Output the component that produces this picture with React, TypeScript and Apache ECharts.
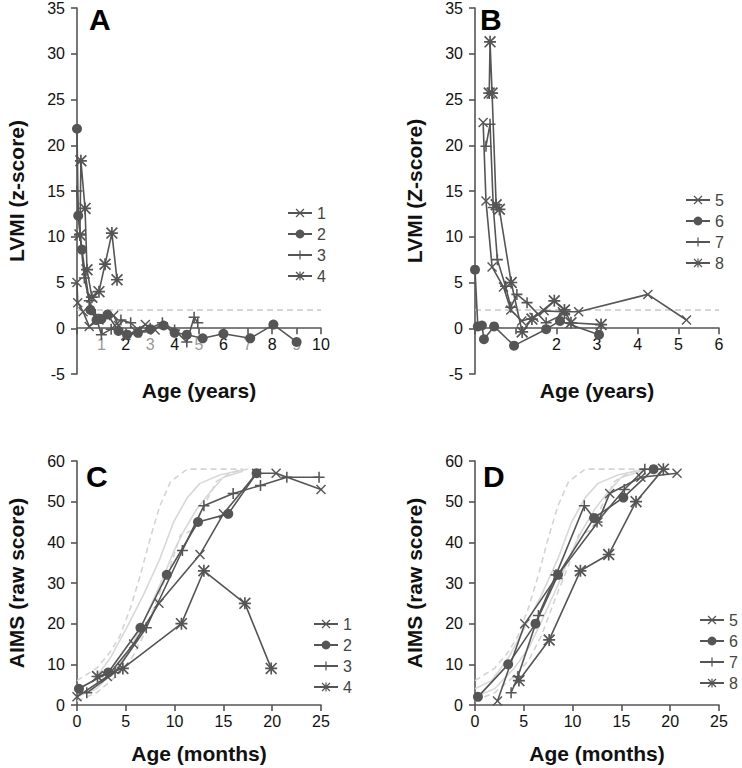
import React, { useEffect, useRef } from "react";
import * as echarts from "echarts";

// ---------- data ----------
// Panel A: LVMI z-score vs age (years), patients 1-4
const lvmiA1: number[][] = [[0, 5.0], [0.03, 2.8], [0.25, 1.8], [0.5, 0.2], [0.9, 0.9], [1.5, 1.4], [1.7, 0.3], [2.0, -0.8], [2.4, -0.3], [2.8, 0.4], [3.2, -0.2]];
const lvmiA2: number[][] = [[0, 21.8], [0.05, 12.3], [0.2, 8.6], [0.55, 2.0], [0.8, 0.9], [1.0, 1.0], [1.25, 1.5], [1.7, -0.3], [2.05, -0.7], [2.5, -0.5], [3.0, -0.1], [3.55, 0.3], [4.0, -0.5], [4.5, -0.7], [5.15, -1.1], [6.0, -0.6], [7.1, -1.1], [8.05, 0.4], [9.0, -1.5]];
const lvmiA3: number[][] = [[0, 15.0], [0.12, 10.3], [0.3, 5.5], [0.5, 3.0], [0.75, 1.5], [1.0, -0.7], [1.4, -0.1], [1.8, 0.9], [2.2, 0.6], [2.6, -0.4], [3.0, 0.0], [3.5, 0.6], [4.0, -0.2], [4.5, -1.5], [4.8, 1.2], [4.95, 0.6]];
const lvmiA4: number[][] = [[0.12, 10.2], [0.16, 18.3], [0.33, 13.1], [0.41, 6.4], [0.61, 3.4], [0.9, 4.0], [1.15, 7.0], [1.43, 10.4], [1.64, 5.3]];
// Panel B: patients 5-8
const lvmiB5: number[][] = [[0.2, 22.5], [0.27, 13.9], [0.42, 6.7], [0.7, 4.5], [0.88, 2.0], [1.15, 0.8], [1.45, 1.2], [1.7, 1.9], [2.15, 1.8], [2.55, 1.8], [4.25, 3.7], [5.2, 0.9]];
const lvmiB6: number[][] = [[0, 6.4], [0.07, 0.2], [0.17, 0.3], [0.22, -1.2], [0.47, 0.2], [0.96, -1.9], [1.75, -0.1], [2.09, 0.8], [3.05, -0.7]];
const lvmiB7: number[][] = [[0.27, 19.9], [0.37, 22.3], [0.45, 13.2], [0.55, 7.5], [0.75, 4.6], [0.88, 2.3], [1.03, 3.7], [1.28, 2.8], [1.75, 0.6], [2.2, 1.6]];
const lvmiB8: number[][] = [[0.35, 25.7], [0.37, 31.3], [0.42, 25.7], [0.52, 13.5], [0.6, 13.0], [0.89, 5.0], [1.16, -0.4], [1.4, 1.0], [1.95, 3.0], [2.2, 2.0], [2.36, 0.6], [3.1, 0.4]];
const lvmiLimit = 2;
// Panel C: AIMS raw score vs age (months), patients 1-4
const aimsC1: number[][] = [[0, 2], [3.1, 7], [5.8, 15], [8.4, 25], [12.6, 37], [15, 47], [18.4, 57], [20.4, 57], [25, 53]];
const aimsC2: number[][] = [[0.2, 4], [3.2, 8], [6.5, 19], [9.2, 32], [12.4, 45], [15.5, 47], [18.4, 57]];
const aimsC3: number[][] = [[1.0, 3], [3.9, 8], [7.1, 19], [10.8, 38], [13.0, 49], [16.0, 52], [18.8, 54], [21.5, 56], [24.8, 56]];
const aimsC4: number[][] = [[2.1, 7], [4.7, 9], [10.7, 20], [13.0, 33], [17.2, 25], [19.9, 9]];
// Panel D: patients 5-8
const aimsD5: number[][] = [[2.3, 1], [5.1, 20], [8.5, 32], [12.6, 45], [13.8, 52], [17.0, 56], [20.7, 57]];
const aimsD6: number[][] = [[0.3, 2], [3.4, 10], [6.2, 20], [8.5, 32], [12.2, 46], [15.2, 51], [18.3, 58]];
const aimsD7: number[][] = [[3.7, 3], [4.4, 7], [6.5, 22], [8.3, 32], [11.2, 49], [12.5, 45], [15.3, 53], [17.4, 58]];
const aimsD8: number[][] = [[4.5, 6], [7.6, 16], [10.8, 33], [13.7, 37], [16.5, 50], [19.3, 58]];
// AIMS reference percentile curves
const aimsP90: number[][] = [[0, 6], [2, 9], [3.4, 13], [4.4, 17], [5.5, 24], [6.5, 32], [7.5, 41], [8.5, 49], [9.6, 55], [11.3, 58], [17, 58]];
const aimsP75: number[][] = [[0, 4], [1.7, 6], [3.4, 11.5], [5.1, 19], [6.8, 27], [8.5, 36], [9.9, 45], [11.3, 51], [12.6, 54.5], [14.7, 56.6], [16.4, 57.5], [17.5, 58]];
const aimsP25: number[][] = [[0, 2], [2, 4], [4, 9], [5.5, 14], [6.8, 20.5], [8.5, 29.5], [9.9, 37.7], [10.9, 42.6], [12.3, 48.3], [13.7, 52.5], [15, 56], [17, 57.5]];
const aimsP10: number[][] = [[0, 1], [2, 3], [4, 7], [5.5, 11], [6.8, 17], [8.2, 26], [9.6, 34.4], [10.6, 41.8], [11.9, 43], [13, 49], [14.3, 55], [15.7, 57], [17, 58]];

const panelLetters = ["A", "B", "C", "D"];
const legendA = ["1", "2", "3", "4"];
const legendB = ["5", "6", "7", "8"];

// ---------- styles ----------
const FONT = "Liberation Sans, Arial, sans-serif";
const INK = "#555";
const SYM_X = "path://M0,1 L1,0 L5,4 L9,0 L10,1 L6,5 L10,9 L9,10 L5,6 L1,10 L0,9 L4,5 Z";
const SYM_PLUS = "path://M4.3,0 H5.7 V4.3 H10 V5.7 H5.7 V10 H4.3 V5.7 H0 V4.3 H4.3 Z";
const SYM_STAR = "path://M4.3,0 H5.7 V10 H4.3 Z M0,4.3 H10 V5.7 H0 Z M0,1 L1,0 L10,9 L9,10 Z M9,0 L10,1 L1,10 L0,9 Z";
const SYMS = [SYM_X, "circle", SYM_PLUS, SYM_STAR];
const SIZES = [10, 10, 11, 12];

function dataSeries(name: string, data: number[][], k: number, idx: number) {
  return {
    type: "line",
    name,
    data,
    xAxisIndex: idx,
    yAxisIndex: idx,
    symbol: SYMS[k],
    symbolSize: SIZES[k],
    showSymbol: true,
    lineStyle: { color: INK, width: 1.6 },
    itemStyle: { color: INK },
    z: 5,
    silent: true,
  };
}

function refSeries(name: string, data: number[][], idx: number, dashed: boolean, color: string) {
  return {
    type: "line",
    name,
    data,
    xAxisIndex: idx,
    yAxisIndex: idx,
    symbol: "none",
    lineStyle: { color, width: 1.6, type: dashed ? [6, 4] : "solid" },
    z: 1,
    silent: true,
  };
}

const grids = [
  { left: 77, top: 7, width: 244, height: 367 },
  { left: 475, top: 7, width: 244, height: 367 },
  { left: 77, top: 461, width: 244, height: 244 },
  { left: 475, top: 461, width: 244, height: 244 },
];
// LVMI panels: zero sits 5 of 40 units above the grid bottom
const LVMI_ZERO_OFFSET = -(367 * 5) / 40;

function xAxis(idx: number, max: number, interval: number, name: string, gap: number, offset: number, fmt?: (v: number) => string, col?: (v: any) => string) {
  return {
    type: "value",
    gridIndex: idx,
    min: 0,
    max,
    interval,
    name,
    offset,
    position: "bottom",
    nameLocation: "middle",
    nameGap: gap,
    nameTextStyle: { fontSize: 21, fontWeight: "bold", color: "#111", fontFamily: FONT },
    axisLine: { onZero: false, lineStyle: { color: INK, width: 1.6 } },
    axisTick: { show: true, length: 6, lineStyle: { color: INK, width: 1.6 } },
    axisLabel: {
      fontSize: 16,
      color: col || "#111",
      fontFamily: FONT,
      margin: 8,
      formatter: fmt || ((v: number) => String(v)),
    },
    splitLine: { show: false },
  };
}

function yAxis(idx: number, min: number, max: number, interval: number, name: string) {
  return {
    type: "value",
    gridIndex: idx,
    min,
    max,
    interval,
    name,
    nameLocation: "middle",
    nameGap: 50,
    nameTextStyle: { fontSize: 21, fontWeight: "bold", color: "#111", fontFamily: FONT },
    axisLine: { show: true, onZero: false, lineStyle: { color: INK, width: 1.6 } },
    axisTick: { show: true, length: 6, lineStyle: { color: INK, width: 1.6 } },
    axisLabel: { fontSize: 16, color: "#111", fontFamily: FONT, margin: 12 },
    splitLine: { show: false },
  };
}

function legend(names: string[], left: number, top: number) {
  return {
    data: names,
    orient: "vertical",
    left,
    top,
    itemWidth: 24,
    itemHeight: 11,
    itemGap: 5,
    selectedMode: false,
    textStyle: { fontSize: 16, color: "#444", fontFamily: FONT },
  };
}

export default function App() {
  const ref = useRef<HTMLDivElement>(null);
  useEffect(() => {
    if (!ref.current) return;
    const chart = echarts.init(ref.current, null, { renderer: "svg" });
    const lightDash = "#d4d4d4";
    const lightSolid = "#d8d8d8";
    const option: any = {
      animation: false,
      backgroundColor: "#fff",
      textStyle: { fontFamily: FONT },
      grid: grids,
      xAxis: [
        xAxis(0, 10, 1, "Age (years)", 52, LVMI_ZERO_OFFSET, (v) => (v === 0 ? "" : String(v)), (v: any) => (Number(v) % 2 === 1 ? "#999" : "#111")),
        xAxis(1, 6, 1, "Age (years)", 52, LVMI_ZERO_OFFSET, (v) => (v <= 1 ? "" : String(v))),
        xAxis(2, 25, 5, "Age (months)", 38, 0),
        xAxis(3, 25, 5, "Age (months)", 38, 0),
      ],
      yAxis: [
        yAxis(0, -5, 35, 5, "LVMI (z-score)"),
        yAxis(1, -5, 35, 5, "LVMI (Z-score)"),
        yAxis(2, 0, 60, 10, "AIMS (raw score)"),
        yAxis(3, 0, 60, 10, "AIMS (raw score)"),
      ],
      legend: [
        legend(legendA, 282, 200),
        legend(legendB, 680, 187),
        legend(legendA, 308, 611),
        legend(legendB, 694, 607),
      ],
      series: [
        refSeries("limitA", [[0, lvmiLimit], [10, lvmiLimit]], 0, true, "#c8c8c8"),
        refSeries("limitB", [[0, lvmiLimit], [6, lvmiLimit]], 1, true, "#c8c8c8"),
        refSeries("p90C", aimsP90, 2, true, lightDash),
        refSeries("p75C", aimsP75, 2, false, lightSolid),
        refSeries("p25C", aimsP25, 2, false, lightSolid),
        refSeries("p10C", aimsP10, 2, true, lightDash),
        refSeries("p90D", aimsP90, 3, true, lightDash),
        refSeries("p75D", aimsP75, 3, false, lightSolid),
        refSeries("p25D", aimsP25, 3, false, lightSolid),
        refSeries("p10D", aimsP10, 3, true, lightDash),
        dataSeries("1", lvmiA1, 0, 0),
        dataSeries("2", lvmiA2, 1, 0),
        dataSeries("3", lvmiA3, 2, 0),
        dataSeries("4", lvmiA4, 3, 0),
        dataSeries("5", lvmiB5, 0, 1),
        dataSeries("6", lvmiB6, 1, 1),
        dataSeries("7", lvmiB7, 2, 1),
        dataSeries("8", lvmiB8, 3, 1),
        dataSeries("1", aimsC1, 0, 2),
        dataSeries("2", aimsC2, 1, 2),
        dataSeries("3", aimsC3, 2, 2),
        dataSeries("4", aimsC4, 3, 2),
        dataSeries("5", aimsD5, 0, 3),
        dataSeries("6", aimsD6, 1, 3),
        dataSeries("7", aimsD7, 2, 3),
        dataSeries("8", aimsD8, 3, 3),
      ],
      graphic: [
        { type: "text", left: 89, top: 4, style: { text: panelLetters[0], fontSize: 30, fontWeight: "bold", fill: "#000", fontFamily: FONT } },
        { type: "text", left: 480, top: 4, style: { text: panelLetters[1], fontSize: 30, fontWeight: "bold", fill: "#000", fontFamily: FONT } },
        { type: "text", left: 86, top: 461, style: { text: panelLetters[2], fontSize: 30, fontWeight: "bold", fill: "#000", fontFamily: FONT } },
        { type: "text", left: 483, top: 461, style: { text: panelLetters[3], fontSize: 30, fontWeight: "bold", fill: "#000", fontFamily: FONT } },
      ],
    };
    chart.setOption(option);
    return () => chart.dispose();
  }, []);
  return <div ref={ref} style={{ position: "absolute", left: 0, top: 0, width: 742, height: 768 }} />;
}
